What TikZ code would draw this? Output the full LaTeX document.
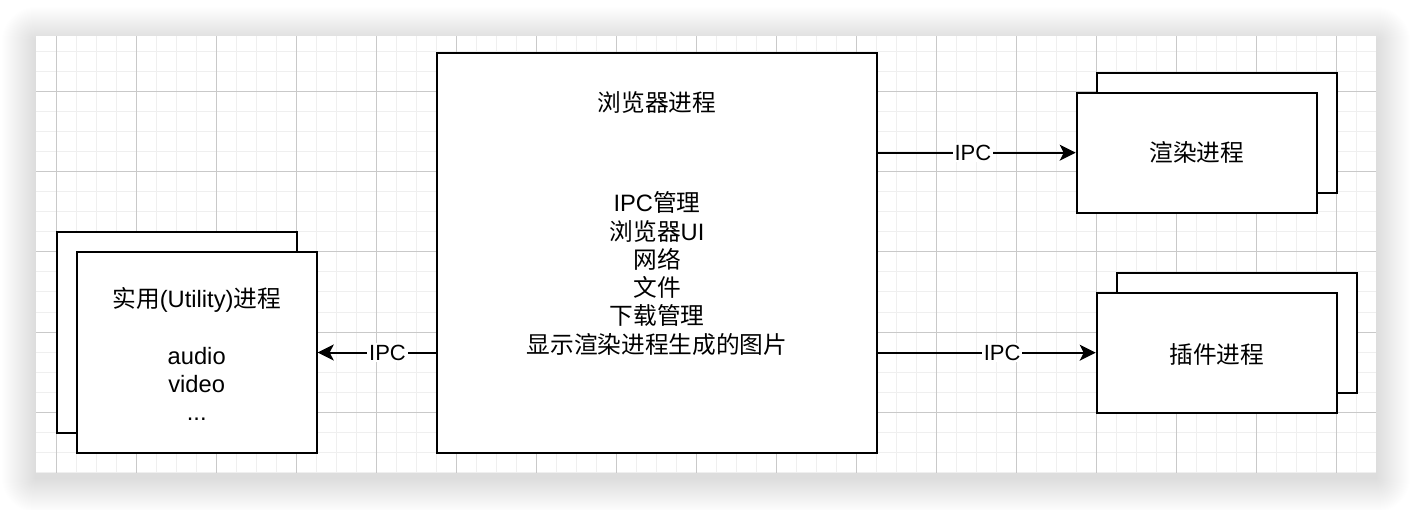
\documentclass[tikz,border=0pt]{standalone}
\usepackage{fontspec}
\setmainfont{Liberation Sans}
\newfontfamily\cjk{Noto Sans CJK SC}
\usetikzlibrary{arrows.meta}
\definecolor{minorgrid}{HTML}{EFEFEF}
\definecolor{majorgrid}{HTML}{C9C9C9}
\begin{document}
\begin{tikzpicture}[x=1pt,y=-1pt,
  procbox/.style={draw=black, line width=2pt, fill=white, inner sep=0pt},
  txt/.style={inner sep=0pt, anchor=base, font=\fontsize{23.7}{28.4}\selectfont},
  lbl/.style={fill=white, inner sep=2pt, font=\fontsize{22}{26}\selectfont},
  conn/.style={line width=2pt, -{Stealth[length=16pt 0 0, width=16pt 0 0, inset=4pt 0 0]}}]
\useasboundingbox (0,0) rectangle (1412,510);
% window shadow
\foreach \i in {1,...,34}
  \fill[black, opacity=0.0035, rounded corners=\i pt] (36-\i,36-\i+5) rectangle (1376+\i,473+\i+5);
% canvas with grid
\fill[white] (36,36) rectangle (1376,473);
\foreach \x in {56,76,...,1356} \draw[minorgrid, line width=1pt] (\x,36) -- (\x,473);
\foreach \y in {52,72,...,472} \draw[minorgrid, line width=1pt] (36,\y) -- (1376,\y);
\foreach \x in {56,136,...,1336} \draw[majorgrid, line width=1pt] (\x,36) -- (\x,473);
\foreach \y in {92,172,...,412} \draw[majorgrid, line width=1pt] (36,\y) -- (1376,\y);
% browser process
\node[procbox, minimum width=440pt, minimum height=400pt] (main) at (657,253) {};
\node[txt] (maintitle) at (657,112) {{\cjk 浏览器进程}};
\node[txt] (m1) at (657,212) {IPC{\cjk 管理}};
\node[txt] (m2) at (657,240.2) {{\cjk 浏览器}UI};
\node[txt] (m3) at (657,268.4) {{\cjk 网络}};
\node[txt] (m4) at (657,296.6) {{\cjk 文件}};
\node[txt] (m5) at (657,324.8) {{\cjk 下载管理}};
\node[txt] (m6) at (657,353) {{\cjk 显示渲染进程生成的图片}};
% render process
\node[procbox, minimum width=240pt, minimum height=120pt] (rendback) at (1216.7,132.7) {};
\node[procbox, minimum width=240pt, minimum height=120pt] (rend) at (1196.7,152.7) {};
\node[txt] (rendtxt) at (1196.7,162) {{\cjk 渲染进程}};
% plugin process
\node[procbox, minimum width=240pt, minimum height=120pt] (plugback) at (1236.7,332.7) {};
\node[procbox, minimum width=240pt, minimum height=120pt] (plug) at (1216.7,352.7) {};
\node[txt] (plugtxt) at (1216.7,363) {{\cjk 插件进程}};
% utility process
\node[procbox, minimum width=240pt, minimum height=200pt] (utilback) at (176.7,332.5) {};
\node[procbox, minimum width=240pt, minimum height=200pt] (util) at (196.7,352.5) {};
\node[txt] (u1) at (196.7,308) {{\cjk 实用}(Utility){\cjk 进程}};
\node[txt] (u2) at (196.7,364) {audio};
\node[txt] (u3) at (196.7,392) {video};
\node[txt] (u4) at (196.7,420) {...};
% connectors
\draw[conn] (main.east |- rend.west) -- node[lbl, pos=0.48] {IPC} (rend.west);
\draw[conn] (main.east |- plug.west) -- node[lbl, pos=0.57] {IPC} (plug.west);
\draw[conn] (main.west |- util.east) -- node[lbl, pos=0.41] {IPC} (util.east);
\end{tikzpicture}
\end{document}
